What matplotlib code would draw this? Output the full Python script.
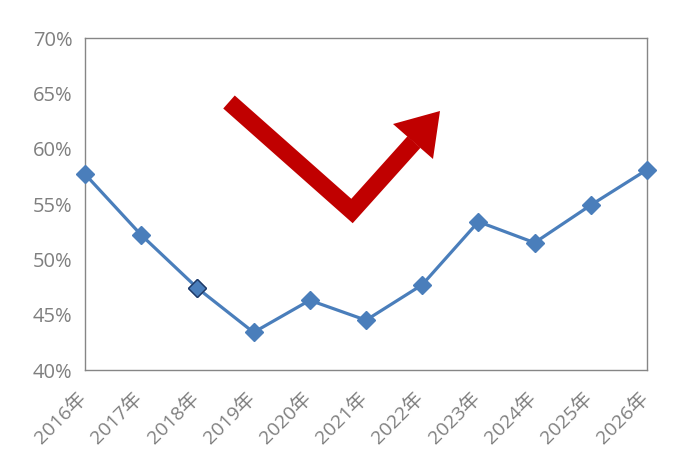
import matplotlib
matplotlib.use("Agg")
import matplotlib.pyplot as plt
from matplotlib.patches import Polygon
from matplotlib.lines import Line2D
from matplotlib.ticker import FuncFormatter
from matplotlib.transforms import ScaledTranslation

plt.rcParams['font.family'] = ['Open Sans', 'Noto Sans CJK SC', 'DejaVu Sans']

years = ["2016年", "2017年", "2018年", "2019年", "2020年", "2021年",
         "2022年", "2023年", "2024年", "2025年", "2026年"]
values = [57.7, 52.2, 47.4, 43.4, 46.3, 44.5, 47.7, 53.4, 51.5, 54.9, 58.1]
yticks = [40, 45, 50, 55, 60, 65, 70]

W, H = 682, 473
fig = plt.figure(figsize=(W / 100, H / 100), dpi=100)
ax = fig.add_axes([85 / W, 1 - 370 / H, (647 - 85) / W, (370 - 38) / H])

blue = "#4A7EBB"
x = list(range(len(years)))
ax.plot(x, values, color=blue, lw=2.3, marker="D", ms=9.5,
        mfc=blue, mec=blue, zorder=3, clip_on=False)
ax.plot([x[2]], [values[2]], ls="none", marker="D", ms=9.5,
        mfc=blue, mec="#1F3864", mew=1.0, zorder=4, clip_on=False)

ax.set_xlim(0, len(years) - 1)
ax.set_ylim(40, 70)
ax.set_yticks(yticks)
ax.yaxis.set_major_formatter(FuncFormatter(lambda v, p: f"{v:.0f}%"))
ax.set_xticks(x)
ax.set_xticklabels(years, rotation=45, ha="right", va="top",
                   rotation_mode="anchor")
ax.tick_params(axis="both", length=0, colors="#7F7F7F")
ax.tick_params(axis="y", labelsize=14.5, pad=9)
ax.tick_params(axis="x", labelsize=14, pad=8)
off = ScaledTranslation(-0.08, -0.08, fig.dpi_scale_trans)
for lab in ax.get_xticklabels():
    lab.set_transform(lab.get_transform() + off)
for s in ax.spines.values():
    s.set_color("#868686")
    s.set_linewidth(1.0)

# red check-mark arrow (figure pixel coordinates)
def fp(px, py):
    return (px / W, 1 - py / H)

red = "#C00000"
pts = [fp(229, 102), fp(352, 211), fp(414, 142)]
fig.add_artist(Line2D([p[0] for p in pts], [p[1] for p in pts],
                      transform=fig.transFigure, color=red, lw=12.5,
                      solid_joinstyle="miter", solid_capstyle="butt"))
head = Polygon([fp(393, 124), fp(440, 111), fp(433, 159)],
               closed=True, transform=fig.transFigure, color=red, lw=0)
fig.add_artist(head)

fig.savefig("out.png", dpi=100)
